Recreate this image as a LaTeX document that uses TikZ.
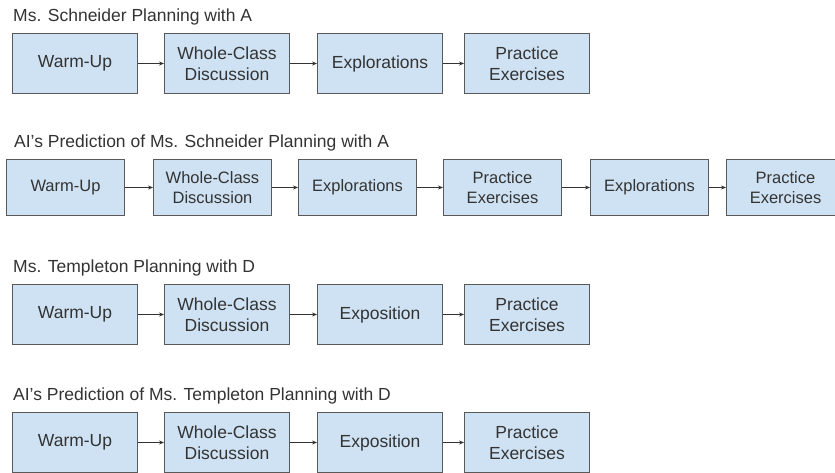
\documentclass[tikz,border=0pt]{standalone}
\usepackage{fontspec}
\setmainfont{Liberation Sans}
\usetikzlibrary{arrows.meta}
\definecolor{boxfill}{HTML}{CFE2F3}
\definecolor{boxline}{HTML}{595959}
\definecolor{txt}{HTML}{333333}
\tikzset{
  stagebox/.style={draw=boxline, line width=1pt, fill=boxfill, anchor=north west,
    align=center, inner sep=0pt, text=txt, font=\fontsize{17.5}{20.5}\selectfont},
  bigbox/.style={stagebox, minimum width=125pt, minimum height=60pt},
  smallbox/.style={stagebox, minimum width=118pt, minimum height=56pt, font=\fontsize{16.5}{19.5}\selectfont},
  title/.style={anchor=base west, inner sep=0pt, text=txt, font=\fontsize{17.5}{20}\selectfont},
  flow/.style={draw=txt, line width=0.8pt, -{Stealth[length=5pt,width=4pt]}}
}
\begin{document}
\begin{tikzpicture}[x=1pt,y=1pt]
\useasboundingbox (0,0) rectangle (835,-473);
\clip (0,0) rectangle (835,-473);
% Row 1
\node[title] (t1) at (13,-22) {Ms. Schneider Planning with A};
\node[bigbox] (a1) at (12,-33) {Warm-Up};
\node[bigbox] (a2) at (164,-33) {Whole-Class\\Discussion};
\node[bigbox] (a3) at (317,-33) {Explorations};
\node[bigbox] (a4) at (464,-33) {Practice\\Exercises};
\draw[flow] (a1) -- (a2);
\draw[flow] (a2) -- (a3);
\draw[flow] (a3) -- (a4);
% Row 2
\node[title] (t2) at (14,-148) {AI's Prediction of Ms. Schneider Planning with A};
\node[smallbox] (b1) at (6,-159) {Warm-Up};
\node[smallbox] (b2) at (153,-159) {Whole-Class\\Discussion};
\node[smallbox] (b3) at (298,-159) {Explorations};
\node[smallbox] (b4) at (443,-159) {Practice\\Exercises};
\node[smallbox] (b5) at (590,-159) {Explorations};
\node[smallbox] (b6) at (726,-159) {Practice\\Exercises};
\draw[flow] (b1) -- (b2);
\draw[flow] (b2) -- (b3);
\draw[flow] (b3) -- (b4);
\draw[flow] (b4) -- (b5);
\draw[flow] (b5) -- (b6);
% Row 3
\node[title] (t3) at (13,-272) {Ms. Templeton Planning with D};
\node[bigbox] (c1) at (12,-284) {Warm-Up};
\node[bigbox] (c2) at (164,-284) {Whole-Class\\Discussion};
\node[bigbox] (c3) at (317,-284) {Exposition};
\node[bigbox] (c4) at (464,-284) {Practice\\Exercises};
\draw[flow] (c1) -- (c2);
\draw[flow] (c2) -- (c3);
\draw[flow] (c3) -- (c4);
% Row 4
\node[title] (t4) at (13,-400) {AI's Prediction of Ms. Templeton Planning with D};
\node[bigbox] (d1) at (12,-412) {Warm-Up};
\node[bigbox] (d2) at (164,-412) {Whole-Class\\Discussion};
\node[bigbox] (d3) at (317,-412) {Exposition};
\node[bigbox] (d4) at (464,-412) {Practice\\Exercises};
\draw[flow] (d1) -- (d2);
\draw[flow] (d2) -- (d3);
\draw[flow] (d3) -- (d4);
\end{tikzpicture}
\end{document}
